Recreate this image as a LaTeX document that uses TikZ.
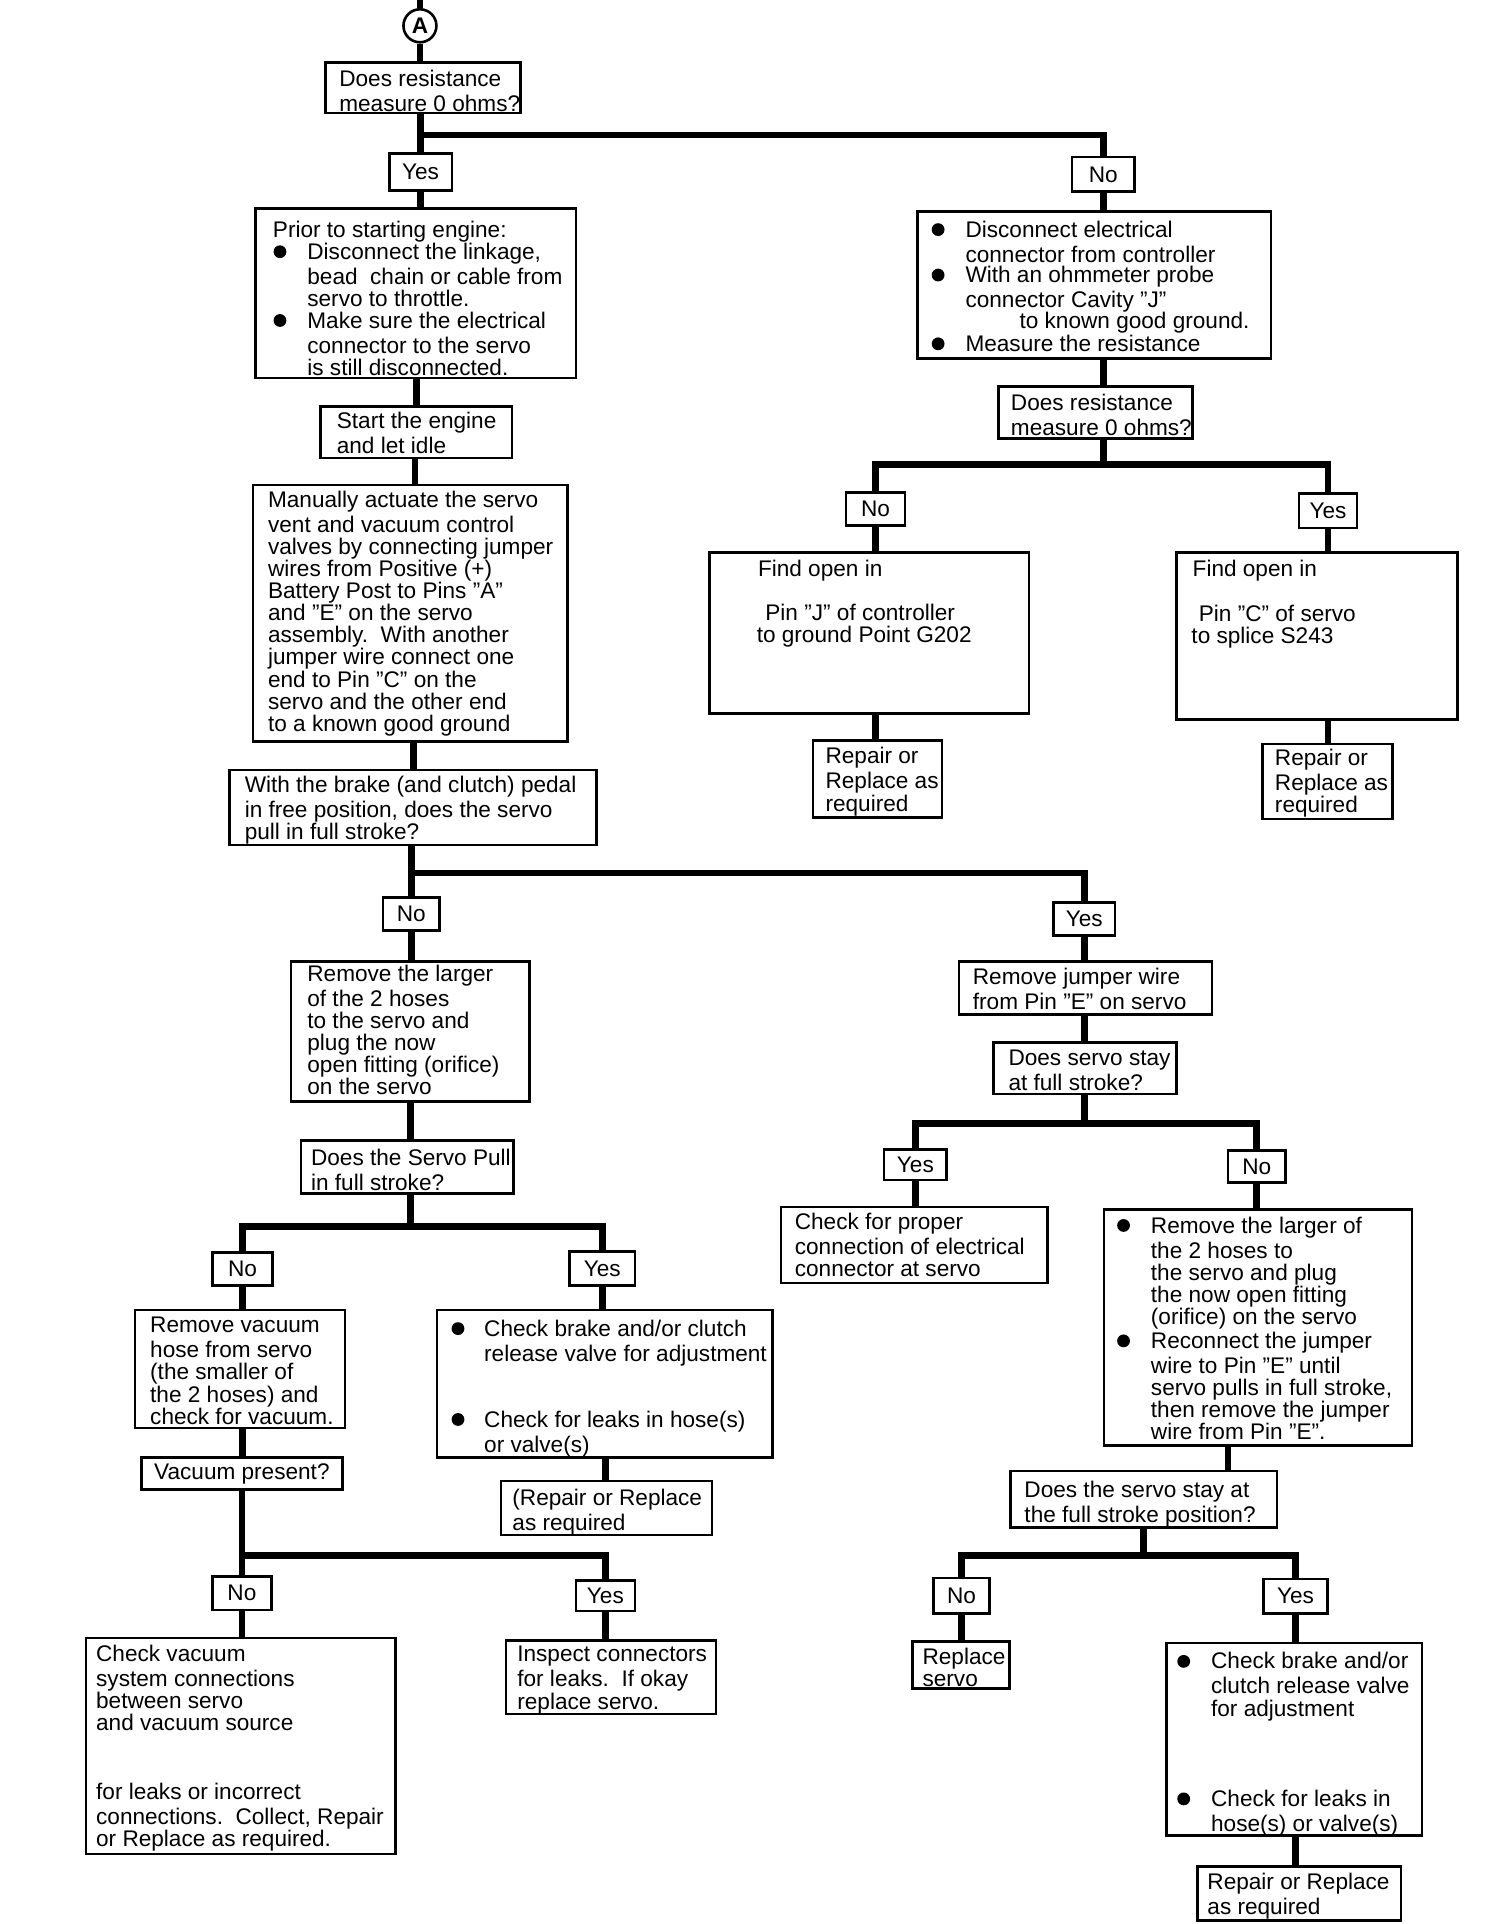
\documentclass[tikz,border=0pt]{standalone}
\usepackage{fontspec}
\setmainfont{Liberation Sans}
\newcommand\myfs{\fontsize{11.3pt}{11.05pt}\selectfont}
\newcommand\mytx[4]{\node[txt] (#1) at (#2-1,#3-7.5) {\strut #4};}
\newcommand\myvc[3]{\draw[conn] (#1.south -| #3) -- (#2.north -| #3);}
\newcommand\mybox[6]{\node[box, minimum width={(#4-#2)*0.614pt}, minimum height={(#5-#3)*0.614pt}] (#1) at ({(#2+#4)/2},{(#3+#5)/2}) {#6};}
\begin{document}
\begin{tikzpicture}[x=0.614pt,y=-0.614pt,
  box/.style={draw, line width=1.3pt, inner sep=0pt, font=\myfs},
  conn/.style={line width=3.4pt},
  txt/.style={anchor=north west, inner sep=0pt, align=left, font=\myfs},
  bul/.style={circle, fill, inner sep=0pt, minimum size=6.4pt}]
\fill[white] (0,0) rectangle (1224.9,1566.9);
\useasboundingbox (0,0) rectangle (1224.9,1566.9);

% ---------- top ----------
\coordinate (top) at (342,0);
\node[circle, draw, line width=1.3pt, minimum size=16.5pt, inner sep=0pt, font=\bfseries\myfs] (A) at (342,21) {A};
\mybox{b1}{265}{51}{424}{92}{}
\mytx{t1}{277}{64}{Does resistance\\measure 0 ohms?}
\mybox{yA}{317}{125}{368}{155}{Yes}
\mybox{nA}{873}{128}{924}{156}{No}
\coordinate (jA) at (342.5,110);

% left branch
\mybox{prior}{208}{170}{469}{308}{}
\mytx{t2}{223}{187}{Prior to starting engine:}
\node[bul] (bu1) at (228,205) {};
\mytx{t3}{251}{205}{Disconnect the linkage,\\bead\ \ chain or cable from\\servo to throttle.}
\node[bul] (bu2) at (228,261) {};
\mytx{t4}{251}{261}{Make sure the electrical\\connector to the servo\\is still disconnected.}

\mybox{start}{261}{331}{417}{373}{}
\mytx{t5}{275}{343}{Start the engine\\and let idle}

\mybox{manual}{206}{395}{462}{604}{}
\mytx{t6}{219}{407}{Manually actuate the servo\\vent and vacuum control\\valves by connecting jumper\\wires from Positive (+)\\Battery Post to Pins "A"\\and "E" on the servo\\assembly.\ \ With another\\jumper wire connect one\\end to Pin "C" on the\\servo and the other end\\to a known good ground}

\mybox{brake}{187}{627}{486}{688}{}
\mytx{t7}{200}{639}{With the brake (and clutch) pedal\\in free position, does the servo\\pull in full stroke?}

\mybox{nB}{312}{731}{358}{758}{No}
\mybox{yB}{858}{735}{908}{762}{Yes}
\coordinate (jB) at (335,711);

\mybox{remL}{237}{783}{431}{897}{}
\mytx{t8}{251}{793}{Remove the larger\\of the 2 hoses\\to the servo and\\plug the now\\open fitting (orifice)\\on the servo}

\mybox{pullQ}{245}{929}{418}{972}{}
\mytx{t9}{254}{943}{Does the Servo Pull\\in full stroke?}
\coordinate (jD) at (334,999);
\mybox{nD}{173}{1020}{222}{1047}{No}
\mybox{yD}{464}{1019}{517}{1047}{Yes}

\mybox{vac}{110}{1067}{281}{1163}{}
\mytx{t10}{123}{1080}{Remove vacuum\\hose from servo\\(the smaller of\\the 2 hoses) and\\check for vacuum.}

\mybox{chkL}{356}{1067}{629}{1187}{}
\node[bul] (bu3) at (373,1082) {};
\mytx{t13}{395}{1082}{Check brake and/or clutch\\release valve for adjustment}
\node[bul] (bu4) at (373,1156) {};
\mytx{t14}{395}{1156}{Check for leaks in hose(s)\\or valve(s)}

\mybox{vacQ}{115}{1187}{279}{1213}{Vacuum present?}
\mybox{repM}{408}{1206}{580}{1250}{}
\mytx{t15}{418}{1220}{(Repair or Replace\\as required}

\coordinate (jE) at (197,1267);
\mybox{nE}{173}{1284}{221}{1311}{No}
\mybox{yE}{469}{1287}{517}{1312}{Yes}

\mybox{chkVac}{70}{1334}{322}{1510}{}
\mytx{t11}{79}{1347}{Check vacuum\\system connections\\between servo\\and vacuum source}
\mytx{t12}{79}{1459}{for leaks or incorrect\\connections.\ \ Collect, Repair\\or Replace as required.}

\mybox{insp}{412}{1336}{583}{1396}{}
\mytx{t16}{422}{1348}{Inspect connectors\\for leaks.\ \ If okay\\replace servo.}

% right top branch
\mybox{discon}{747}{172}{1035}{292}{}
\node[bul] (bu5) at (764,187) {};
\mytx{t17}{787}{187}{Disconnect electrical\\connector from controller}
\node[bul] (bu6) at (764,224) {};
\mytx{t18}{787}{224}{With an ohmmeter probe\\connector Cavity "J"}
\mytx{t19}{831}{261}{to known good ground.}
\node[bul] (bu7) at (764,280) {};
\mytx{t20}{787}{280}{Measure the resistance}

\mybox{res2}{813}{315}{971}{357}{}
\mytx{t21}{824}{328}{Does resistance\\measure 0 ohms?}
\coordinate (jC) at (898.5,378);
\mybox{nC}{689}{401}{737}{428}{No}
\mybox{yC}{1058}{402}{1105}{430}{Yes}

\mybox{findL}{578}{450}{838}{581}{}
\mytx{t22}{618}{463}{Find open in}
\mytx{t23}{624}{499}{Pin "J" of controller}
\mytx{t24}{617}{517}{to ground Point G202}
\mybox{repL}{662}{603}{767}{666}{}
\mytx{t25}{673}{616}{Repair or\\Replace as\\required}

\mybox{findR}{958}{450}{1187}{586}{}
\mytx{t26}{972}{463}{Find open in}
\mytx{t27}{977}{500}{Pin "C" of servo}
\mytx{t28}{971}{518}{to splice S243}
\mybox{repR}{1028}{606}{1134}{667}{}
\mytx{t29}{1039}{617}{Repair or\\Replace as\\required}

% right middle branch
\mybox{remJ}{781}{783}{987}{826}{}
\mytx{t30}{793}{796}{Remove jumper wire\\from Pin "E" on servo}
\mybox{stayQ}{809}{849}{958}{891}{}
\mytx{t31}{822}{862}{Does servo stay\\at full stroke?}
\coordinate (jF) at (883,915);
\mybox{yF}{720}{936}{771}{961}{Yes}
\mybox{nF}{1000}{937}{1047}{963}{No}

\mybox{proper}{636}{983}{853}{1045}{}
\mytx{t32}{648}{995}{Check for proper\\connection of electrical\\connector at servo}

\mybox{remR}{899}{985}{1150}{1177}{}
\node[bul] (bu8) at (915,998) {};
\mytx{t33}{938}{998}{Remove the larger of\\the 2 hoses to\\the servo and plug\\the now open fitting\\(orifice) on the servo}
\node[bul] (bu9) at (915,1092) {};
\mytx{t34}{938}{1092}{Reconnect the jumper\\wire to Pin "E" until\\servo pulls in full stroke,\\then remove the jumper\\wire from Pin "E".}

\coordinate (c6) at (1000,0);
\mybox{stay2}{823}{1198}{1040}{1244}{}
\mytx{t35}{835}{1213}{Does the servo stay at\\the full stroke position?}
\coordinate (jG) at (931,1267);
\mybox{nG}{760}{1285}{806}{1314}{No}
\mybox{yG}{1029}{1286}{1081}{1314}{Yes}

\mybox{replS}{743}{1337}{822}{1375}{}
\mytx{t36}{752}{1349}{Replace\\servo}

\mybox{chkR}{950}{1338}{1158}{1495}{}
\node[bul] (bu10) at (964,1353) {};
\mytx{t37}{987}{1353}{Check brake and/or\\clutch release valve\\for adjustment}
\node[bul] (bu11) at (964,1465) {};
\mytx{t38}{987}{1465}{Check for leaks in\\hose(s) or valve(s)}

\mybox{repB}{975}{1520}{1141}{1564}{}
\mytx{t39}{984}{1533}{Repair or Replace\\as required}

% column helpers
\coordinate (c1) at (339,0);
\coordinate (c2) at (338,0);
\coordinate (c3) at (337,0);
\coordinate (c4) at (334,0);
\coordinate (c5) at (493,0);

% ---------- connectors ----------
\draw[conn] (top) -- (A.north);
\myvc{A}{b1}{A}
\myvc{b1}{yA}{yA}
\draw[conn] (jA) -| (nA.north);
\myvc{yA}{prior}{yA}
\myvc{prior}{start}{c1}
\myvc{start}{manual}{c2}
\myvc{manual}{brake}{c3}
\myvc{brake}{nB}{nB}
\draw[conn] (jB) -| (yB.north);
\myvc{nB}{remL}{nB}
\myvc{remL}{pullQ}{c4}
\draw[conn] (pullQ.south -| c4) -- (jD);
\draw[conn] (nD.north) |- (jD) -| (yD.north);
\myvc{nD}{vac}{nD}
\myvc{vac}{vacQ}{nD}
\myvc{vacQ}{nE}{nE}
\draw[conn] (jE) -| (yE.north);
\myvc{nE}{chkVac}{nE}
\myvc{yE}{insp}{yE}
\myvc{yD}{chkL}{yD}
\myvc{chkL}{repM}{c5}

\myvc{nA}{discon}{nA}
\myvc{discon}{res2}{nA}
\draw[conn] (res2.south -| jC) -- (jC);
\draw[conn] (nC.north) |- (jC) -| (yC.north);
\myvc{nC}{findL}{nC}
\myvc{findL}{repL}{nC}
\myvc{yC}{findR}{yC}
\myvc{findR}{repR}{yC}

\myvc{yB}{remJ}{yB}
\myvc{remJ}{stayQ}{yB}
\draw[conn] (stayQ.south -| jF) -- (jF);
\draw[conn] (yF.north) |- (jF) -| (nF.north);
\myvc{yF}{proper}{yF}
\myvc{nF}{remR}{nF}
\myvc{remR}{stay2}{c6}
\draw[conn] (stay2.south -| jG) -- (jG);
\draw[conn] (nG.north) |- (jG) -| (yG.north);
\myvc{nG}{replS}{nG}
\myvc{yG}{chkR}{yG}
\myvc{chkR}{repB}{yG}
\end{tikzpicture}
\end{document}
